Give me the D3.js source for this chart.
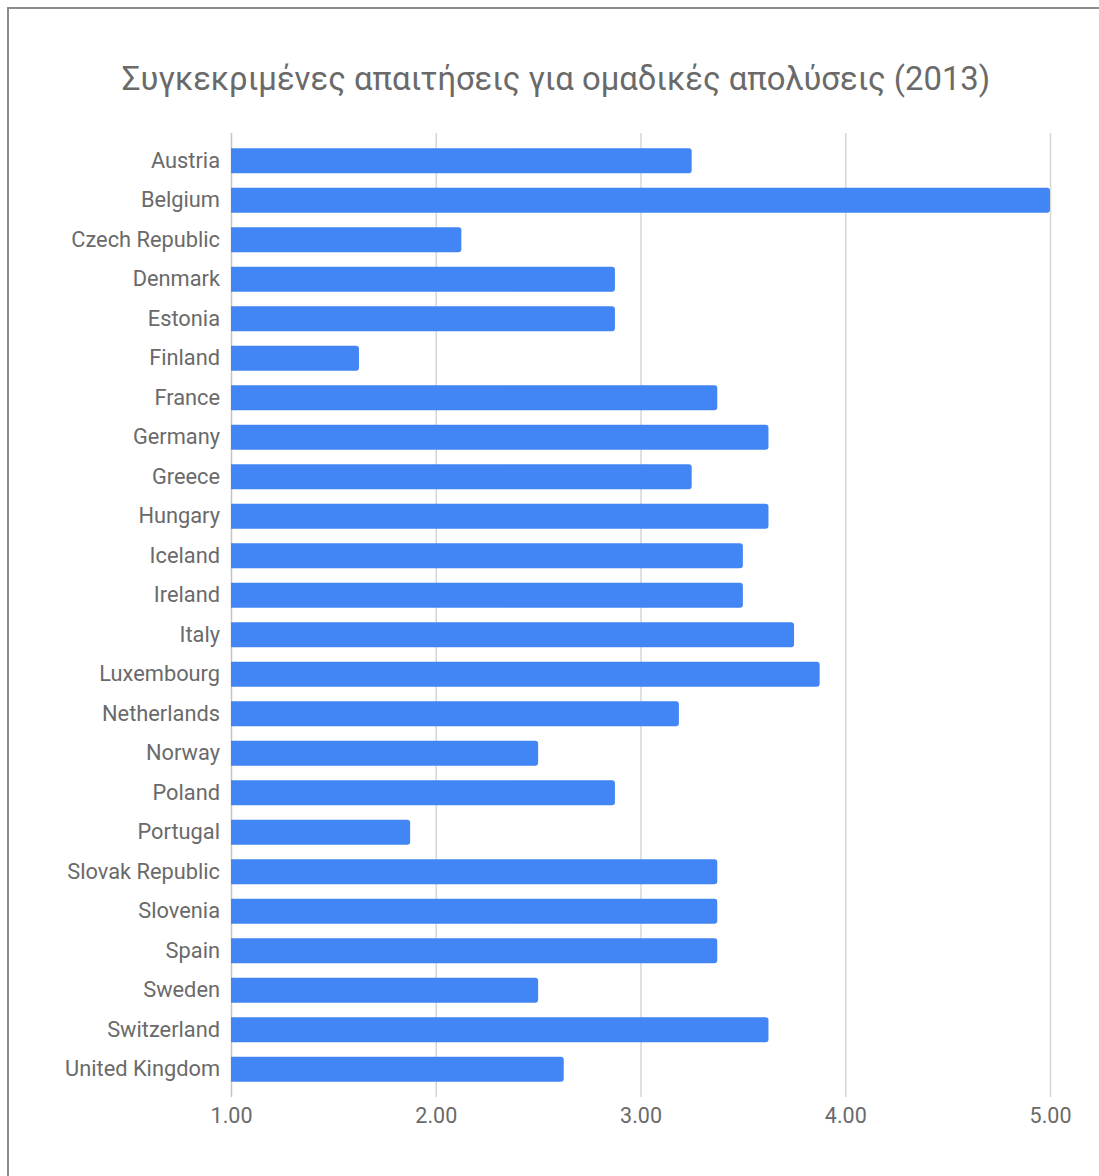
<!DOCTYPE html>
<html>
<head>
<meta charset="utf-8">
<script src="https://cdn.jsdelivr.net/npm/d3@7"></script>
<style>
  html, body { margin: 0; padding: 0; background: #fff; }
  svg { display: block; }
  text { font-family: Roboto, "Noto Sans", sans-serif; }
</style>
</head>
<body>
<svg id="chart" width="1099" height="1176"></svg>
<script>
// --- DATA --------------------------------------------------------------------
const COUNTRIES = [
  'Austria', 'Belgium', 'Czech Republic', 'Denmark', 'Estonia', 'Finland',
  'France', 'Germany', 'Greece', 'Hungary', 'Iceland', 'Ireland', 'Italy',
  'Luxembourg', 'Netherlands', 'Norway', 'Poland', 'Portugal',
  'Slovak Republic', 'Slovenia', 'Spain', 'Sweden', 'Switzerland',
  'United Kingdom'
];
const VALUES = [
  3.25, 5.00, 2.125, 2.875, 2.875, 1.625,
  3.375, 3.625, 3.25, 3.625, 3.5, 3.5, 3.75,
  3.875, 3.1875, 2.5, 2.875, 1.875,
  3.375, 3.375, 3.375, 2.5, 3.625,
  2.625
];
const X_TICKS = [1, 2, 3, 4, 5];
const TITLE = 'Συγκεκριμένες απαιτήσεις για ομαδικές απολύσεις (2013)';

// --- LAYOUT ------------------------------------------------------------------
const W = 1099, H = 1176;
const PLOT = { left: 231, right: 1050, top: 141, bottom: 1089 };
const GRID_TOP = 133, GRID_BOTTOM = 1097;

const COL = {
  BAR:   '#4285F4',
  GRID:  '#d6d6d6',
  AXIS:  '#c4c4c4',
  TEXT:  '#6a6a6a',
  FRAME: '#8c8c8c',
};

const svg = d3.select('#chart');

// frame (right/bottom run off the picture)
svg.append('rect')
  .attr('x', 8).attr('y', 8)
  .attr('width', W + 20).attr('height', H + 20)
  .attr('fill', 'none').attr('stroke', COL.FRAME).attr('stroke-width', 2);

// title
svg.append('text')
  .attr('x', 556).attr('y', 90)
  .attr('text-anchor', 'middle')
  .attr('font-size', '32.8px')
  .attr('fill', COL.TEXT)
  .text(TITLE);

const x = d3.scaleLinear().domain([1, 5]).range([PLOT.left, PLOT.right]);
const y = d3.scaleBand().domain(COUNTRIES).range([PLOT.top, PLOT.bottom]).paddingInner(0.37).paddingOuter(0.185);

// gridlines + tick labels
const xAxis = d3.axisBottom(x)
  .tickValues(X_TICKS)
  .tickFormat(d3.format('.2f'))
  .tickSize(-(GRID_BOTTOM - GRID_TOP))
  .tickPadding(11);

const gx = svg.append('g')
  .attr('transform', `translate(0,${GRID_BOTTOM})`)
  .call(xAxis);
gx.select('.domain').remove();
gx.selectAll('.tick line').attr('stroke', (d) => d === 1 ? COL.AXIS : COL.GRID).attr('stroke-width', 1.5);
gx.selectAll('.tick text')
  .attr('fill', COL.TEXT)
  .attr('font-size', '21.5px')
  .attr('font-family', 'Roboto, sans-serif');

// bars — square on the axis side, rounded at the value end
const barR = 3;
svg.append('g').selectAll('path')
  .data(COUNTRIES.map((c, i) => ({ name: c, value: VALUES[i] })))
  .join('path')
  .attr('fill', COL.BAR)
  .attr('d', (d) => {
    const x0 = x(1), x1 = x(d.value);
    const y0 = y(d.name), h = y.bandwidth();
    return `M${x0},${y0}H${x1 - barR}Q${x1},${y0} ${x1},${y0 + barR}` +
           `V${y0 + h - barR}Q${x1},${y0 + h} ${x1 - barR},${y0 + h}H${x0}Z`;
  });

// category labels
const yAxis = d3.axisLeft(y).tickSize(0).tickPadding(11);
const gy = svg.append('g')
  .attr('transform', `translate(${PLOT.left},0)`)
  .call(yAxis);
gy.select('.domain').remove();
gy.selectAll('.tick text')
  .attr('fill', COL.TEXT)
  .attr('font-size', '21.8px')
  .attr('font-family', 'Roboto, sans-serif');
</script>
</body>
</html>
